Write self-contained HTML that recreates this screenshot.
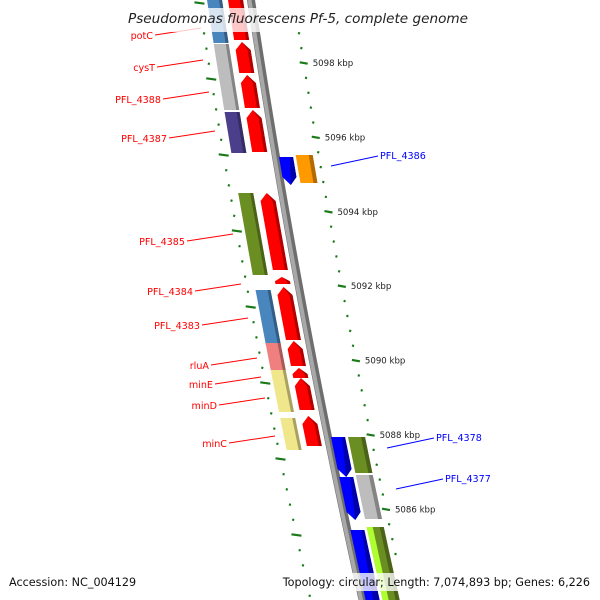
<!DOCTYPE html>
<html><head><meta charset="utf-8"><style>
html,body{margin:0;padding:0;background:#fff;}
svg{display:block;font-family:"DejaVu Sans","Liberation Sans",sans-serif;}
</style></head><body>
<svg id="map" width="600" height="600" viewBox="0 0 600 600" xmlns="http://www.w3.org/2000/svg">
<g id="ticks"></g>
<g id="backbone"></g>
<g id="features"></g>
<g id="labels"></g>
<rect x="122" y="8" width="354" height="24" fill="#fff" fill-opacity="0.78"/>
<text x="128" y="23" font-size="13.6" font-style="italic" fill="#222">Pseudomonas fluorescens Pf-5, complete genome</text>
<rect x="0" y="573" width="600" height="18" fill="#fff" fill-opacity="0.78"/>
<text x="9" y="586" font-size="11.2" fill="#111">Accession: NC_004129</text>
<text x="590" y="586" font-size="11.2" fill="#111" text-anchor="end">Topology: circular; Length: 7,074,893 bp; Genes: 6,226</text>
</svg>
<script>
// data
const kbpLabels = [5098, 5096, 5094, 5092, 5090, 5088, 5086];
const leftFeatNames = ["potC","cysT","PFL_4388","PFL_4387","PFL_4385","PFL_4384","PFL_4383","rluA","minE","minD","minC"];
const cogBoxes = [[-10,43,"#4a86be"],[44,77,"#bdbdbd"],[77,110,"#bdbdbd"],[112,153,"#4b3f8c"],[193,275,"#6b8e23"],[290,345,"#4a86be"],[343,370,"#f08080"],[370,382,"#f0e68c"],[382,412,"#f0e68c"],[418,450,"#f0e68c"]];
const fwdArrows = [[-10,40],[42,73],[75,108],[110,152],[193,270],[277,284],[287,340],[341,366],[368,378],[378,410],[416,446]];
const revArrows = [[157,185],[437,477],[477,520],[530,610]];
const revBoxes = [[155,183,"#ff9900"],[437,473,"#6b8e23"],[475,519,"#bdbdbd"],[527,610,"#6b8e23"]];
const leftLabelY = [39,71,103,142,245,295,329,369,388,409,447];
const leftLabelX = [153,155,161,167,185,193,200,209,213,217,227];
const rightNames = ["PFL_4386","PFL_4378","PFL_4377"];
const rightLabelY = [159,441,482];
const rightLabelX = [380,436,445];

const NS="http://www.w3.org/2000/svg";
function bx(y){return 251+0.15*y+0.00006*y*y;}
function kbpY(k){return 63+(5098-k)*37.2;}
function el(tag,attrs,parent){const e=document.createElementNS(NS,tag);for(const k in attrs)e.setAttribute(k,attrs[k]);parent.appendChild(e);return e;}
function quad(y0,y1,o0,o1){return `${bx(y0)+o0},${y0} ${bx(y0)+o1},${y0} ${bx(y1)+o1},${y1} ${bx(y1)+o0},${y1}`;}
function shade(c){const n=parseInt(c.slice(1),16);const r=(n>>16)*0.7|0,g=((n>>8)&255)*0.7|0,b=(n&255)*0.7|0;return `rgb(${r},${g},${b})`;}

const T=document.getElementById('ticks'),B=document.getElementById('backbone'),F=document.getElementById('features'),L=document.getElementById('labels');

let pts=[];for(let y=-5;y<=605;y+=5)pts.push(`${bx(y)},${y}`);
let bb=el('polyline',{points:pts.join(' '),fill:'none',stroke:'#6e6e6e','stroke-width':8},B);

let bb2=el('polyline',{points:pts.map(p=>{const [x,y]=p.split(',');return (+x-1.5)+','+y}).join(' '),fill:'none',stroke:'#a8a8a8','stroke-width':4},B);


for(let k=5099.2;k>=5084.8;k-=0.4){
  const y=kbpY(k);if(y<-5||y>605)continue;
  const major=Math.abs(k-Math.round(k))<0.05 && Math.round(k)%2===0;
  const x=bx(y)+43;
  const t=el('line',{x1:x-(major?4:1),y1:y-(major?0.7:0.3),x2:x+(major?4:1),y2:y+(major?0.7:0.3),stroke:'#1a7a1a','stroke-width':2.2},T);
  
}
for(let i=-2;i<45;i++){
  const y=3+i*15.2;if(y<-5||y>605)continue;
  const major=i%5===0;
  const x=bx(y)-52;
  const t=el('line',{x1:x-(major?5:1),y1:y-(major?0.7:0.3),x2:x+(major?5:1),y2:y+(major?0.7:0.3),stroke:'#1a7a1a','stroke-width':2.2},T);
  
}
kbpLabels.forEach(k=>{const y=kbpY(k);
  const t=el('text',{x:bx(y)+52,y:y+3,'font-size':8.6,fill:'#222'},T);t.textContent=k+' kbp';
  });

cogBoxes.forEach(([a,b,c])=>{
  const p=el('polygon',{points:quad(a,b,-44,-29),fill:c},F);
  const s=el('polygon',{points:quad(a,b,-32,-29),fill:shade(c)},F);
});
revBoxes.forEach(([a,b,c])=>{
  const p=el('polygon',{points:quad(a,b,20,37),fill:c},F);
  const s=el('polygon',{points:quad(a,b,33,37),fill:shade(c)},F);
});
fwdArrows.forEach(([a,b])=>{
  const h=Math.min(8,(b-a)*0.6),o0=-23,o1=-8,m=(o0+o1)/2;
  const pts=`${bx(a)+m},${a} ${bx(a+h)+o1},${a+h} ${bx(b)+o1},${b} ${bx(b)+o0},${b} ${bx(a+h)+o0},${a+h}`;
  const p=el('polygon',{points:pts,fill:'#ff0000'},F);
  const s=el('polygon',{points:`${bx(a)+m},${a} ${bx(a+h)+o1},${a+h} ${bx(b)+o1},${b} ${bx(b)+o1-3},${b} ${bx(a+h)+o1-3},${a+h}`,fill:'#b00000'},F);
  
});
revArrows.forEach(([a,b])=>{
  const h=8,o0=3,o1=17,m=(o0+o1)/2;
  const pts=`${bx(a)+o0},${a} ${bx(a)+o1},${a} ${bx(b-h)+o1},${b-h} ${bx(b)+m},${b} ${bx(b-h)+o0},${b-h}`;
  const p=el('polygon',{points:pts,fill:'#0000ff'},F);
  const s=el('polygon',{points:`${bx(a)+o1-3},${a} ${bx(a)+o1},${a} ${bx(b-h)+o1},${b-h} ${bx(b)+m},${b}`,fill:'#0000aa'},F);
  
});
const lg=el('polygon',{points:quad(527,610,20,26),fill:'#adff2f'},F);

leftFeatNames.forEach((n,i)=>{
  const x=leftLabelX[i],y=leftLabelY[i];
  const ln=el('line',{x1:x+2,y1:y-4,x2:x+48,y2:y-11,stroke:'#ff0000','stroke-width':1},L);
  
  const t=el('text',{x:x,y:y,'font-size':9.6,fill:'#ff0000','text-anchor':'end'},L);t.textContent=n;
  
});
rightNames.forEach((n,i)=>{
  const x=rightLabelX[i],y=rightLabelY[i];
  const ln=el('line',{x1:x-2,y1:y-3,x2:x-49,y2:y+7,stroke:'#0000ff','stroke-width':1},L);
  
  const t=el('text',{x:x,y:y,'font-size':9.6,fill:'#0000ff'},L);t.textContent=n;
  
});
</script>
</body></html>
